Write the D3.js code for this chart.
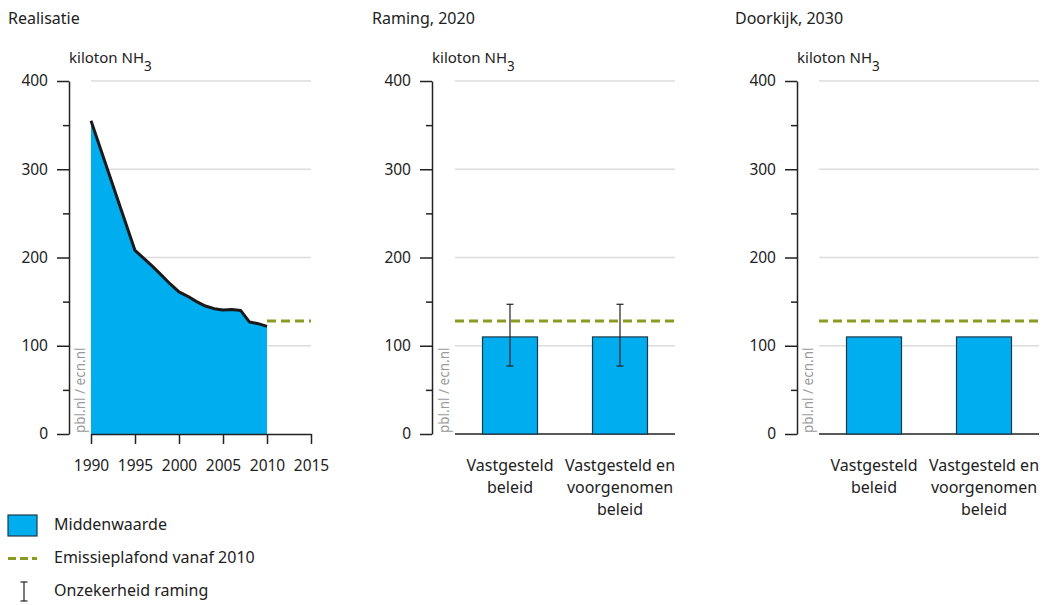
<!DOCTYPE html>
<html><head><meta charset="utf-8">
<script src="https://cdn.jsdelivr.net/npm/d3@7"></script>
<style>
body{margin:0;background:#fff;}
text{font-family:"Noto Sans",sans-serif;fill:#222;}
</style></head>
<body><svg id="c" width="1043" height="605"></svg>
<script>
const years = [1990,1995,1996,1997,1998,1999,2000,2001,2002,2003,2004,2005,2006,2007,2008,2009,2010];
const emissions = [355,208,199,190,180,170,161,156,150,145,142,140.5,141,140,127,125,122];
const ceiling = 128;
const ceilingYears = [2010,2015];
const xTicks = [1990,1995,2000,2005,2010,2015];
const yTicks = [0,100,200,300,400];
const yMinor = [50,150,250,350];
const categories = [["Vastgesteld","beleid"],["Vastgesteld en","voorgenomen","beleid"]];
const catKeys = ["vb","vvb"];
const raming2020 = [110,110];
const raming2020Low = [77,77];
const raming2020High = [147,147];
const doorkijk2030 = [110,110];
const titles = ["Realisatie","Raming, 2020","Doorkijk, 2030"];
const legendLabels = ["Middenwaarde","Emissieplafond vanaf 2010","Onzekerheid raming"];

const BLUE="#00adef", OLIVE="#8a9a22", GRID="#dcdcdc", AX="#222";
const svg=d3.select("#c");
const y=d3.scaleLinear().domain([0,400]).range([434,81]);

function panel(title,titleX,axisX,p0,p1){
  svg.append("text").attr("x",titleX).attr("y",24).attr("font-size",16).text(title);
  const u=svg.append("text").attr("x",axisX).attr("y",63).attr("font-size",15);
  u.append("tspan").text("kiloton NH");
  u.append("tspan").attr("dy",8).attr("font-size",13.5).text("3");
  svg.append("g").selectAll("line").data(yTicks.filter(d=>d>0)).join("line")
    .attr("x1",p0).attr("x2",p1).attr("y1",d=>y(d)).attr("y2",d=>y(d))
    .attr("stroke",GRID).attr("stroke-width",1.5);
  const ga=svg.append("g").attr("transform",`translate(${axisX},0)`)
    .call(d3.axisLeft(y).tickValues(yTicks).tickSize(12).tickSizeOuter(0).tickPadding(9));
  ga.select(".domain").attr("stroke",AX).attr("stroke-width",1.5);
  ga.selectAll(".tick line").attr("stroke",AX).attr("stroke-width",1.5);
  ga.selectAll(".tick text").attr("font-size",15.5).attr("font-family","Noto Sans").attr("fill","#222");
  const gm=svg.append("g").attr("transform",`translate(${axisX},0)`)
    .call(d3.axisLeft(y).tickValues(yMinor).tickSize(6).tickFormat(""));
  gm.select(".domain").remove();
  gm.selectAll(".tick line").attr("stroke",AX).attr("stroke-width",1.5);
}
function watermark(x){
  svg.append("text").attr("transform",`translate(${x},433) rotate(-90)`)
    .attr("font-size",13.5).style("fill","#9a9a9a").text("pbl.nl / ecn.nl");
}

// Panel 1
panel(titles[0],8,69,91,311);
const x1=d3.scaleLinear().domain([1990,2015]).range([91,311]);
const pts=years.map((yr,i)=>[yr,emissions[i]]);
svg.append("path").datum(pts)
  .attr("d",d3.area().x(d=>x1(d[0])).y0(y(0)).y1(d=>y(d[1])))
  .attr("fill",BLUE);
svg.append("path").datum(pts)
  .attr("d",d3.line().x(d=>x1(d[0])).y(d=>y(d[1])))
  .attr("fill","none").attr("stroke","#1a1a1a").attr("stroke-width",3).attr("stroke-linejoin","round");
svg.append("line").attr("x1",x1(ceilingYears[0])).attr("x2",x1(ceilingYears[1]))
  .attr("y1",y(ceiling)).attr("y2",y(ceiling))
  .attr("stroke",OLIVE).attr("stroke-width",3).attr("stroke-dasharray","9,5");
const gx=svg.append("g").attr("transform","translate(0,434)")
  .call(d3.axisBottom(x1).tickValues(xTicks).tickFormat(d3.format("d")).tickSize(10).tickSizeOuter(0).tickPadding(16));
gx.select(".domain").attr("stroke",AX).attr("stroke-width",1.5);
gx.selectAll(".tick line").attr("stroke",AX).attr("stroke-width",1.5);
gx.selectAll(".tick text").attr("font-size",15.5).attr("font-family","Noto Sans").attr("fill","#222");
watermark(85);

function barPanel(title,titleX,axisX,p0,p1,vals,lo,hi,wmX){
  panel(title,titleX,axisX,p0,p1);
  const xb=d3.scaleBand().domain(catKeys).range([p0,p1]).paddingInner(0.5).paddingOuter(0.25);
  svg.append("line").attr("x1",p0).attr("x2",p1).attr("y1",y(0)).attr("y2",y(0))
    .attr("stroke",AX).attr("stroke-width",1.5);
  svg.append("g").selectAll("rect").data(vals).join("rect")
    .attr("x",(d,i)=>xb(catKeys[i])).attr("width",xb.bandwidth())
    .attr("y",d=>y(d)).attr("height",d=>y(0)-y(d))
    .attr("fill",BLUE).attr("stroke","#1d3a4a").attr("stroke-width",1.2);
  svg.append("line").attr("x1",p0).attr("x2",p1).attr("y1",y(ceiling)).attr("y2",y(ceiling))
    .attr("stroke",OLIVE).attr("stroke-width",3).attr("stroke-dasharray","9,5");
  if(lo){
    vals.forEach((v,i)=>{
      const cx=xb(catKeys[i])+xb.bandwidth()/2;
      const g=svg.append("g").attr("stroke","#222").attr("stroke-width",1.2);
      g.append("line").attr("x1",cx).attr("x2",cx).attr("y1",y(hi[i])).attr("y2",y(lo[i]));
      g.append("line").attr("x1",cx-3.5).attr("x2",cx+3.5).attr("y1",y(hi[i])).attr("y2",y(hi[i]));
      g.append("line").attr("x1",cx-3.5).attr("x2",cx+3.5).attr("y1",y(lo[i])).attr("y2",y(lo[i]));
    });
  }
  categories.forEach((lines,i)=>{
    const cx=xb(catKeys[i])+xb.bandwidth()/2;
    const t=svg.append("text").attr("text-anchor","middle").attr("font-size",16);
    lines.forEach((l,j)=>t.append("tspan").attr("x",cx).attr("y",471+j*22).text(l));
  });
  watermark(wmX);
}
barPanel(titles[1],372,432,455,675,raming2020,raming2020Low,raming2020High,449);
barPanel(titles[2],735,797,819,1039,doorkijk2030,null,null,813);

// Legend
svg.append("rect").attr("x",8).attr("y",515).attr("width",29).attr("height",21)
  .attr("fill",BLUE).attr("stroke","#1d3a4a").attr("stroke-width",1.2);
svg.append("line").attr("x1",8).attr("x2",37).attr("y1",558.5).attr("y2",558.5)
  .attr("stroke",OLIVE).attr("stroke-width",3).attr("stroke-dasharray","8,4");
const lg=svg.append("g").attr("stroke","#222").attr("stroke-width",1.2);
lg.append("line").attr("x1",24).attr("x2",24).attr("y1",582).attr("y2",601);
lg.append("line").attr("x1",20.5).attr("x2",27.5).attr("y1",582).attr("y2",582);
lg.append("line").attr("x1",20.5).attr("x2",27.5).attr("y1",601).attr("y2",601);
legendLabels.forEach((l,i)=>svg.append("text").attr("x",54).attr("y",530+i*33).attr("font-size",16).text(l));
</script></body></html>
